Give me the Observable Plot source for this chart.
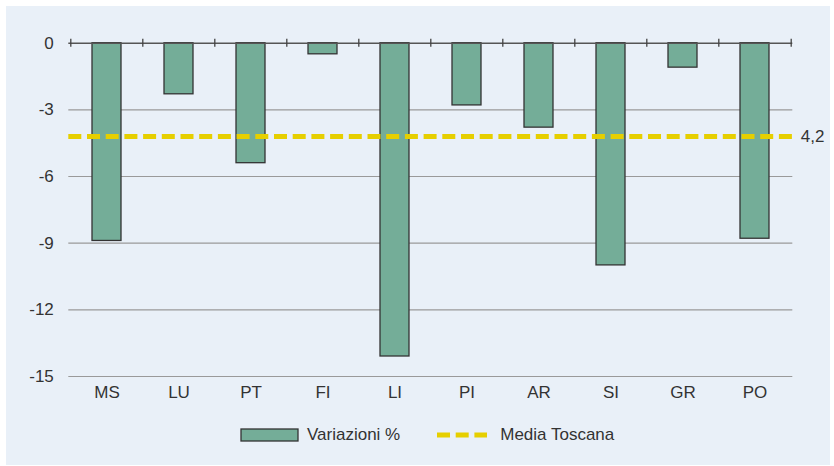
<!DOCTYPE html>
<html>
<head>
<meta charset="utf-8">
<script src="https://cdn.jsdelivr.net/npm/d3@7"></script>
<script src="https://cdn.jsdelivr.net/npm/@observablehq/plot@0.6"></script>
<style>
  html, body { margin: 0; padding: 0; background: #ffffff; }
  body { width: 834px; height: 466px; position: relative; overflow: hidden;
         font-family: "Liberation Sans", Arial, sans-serif; color: #333; }
  #panel { position: absolute; left: 6px; top: 6px; width: 824px; height: 459px; background: #e9f0f8; }
  #chart { position: absolute; left: 0; top: 0; }
  #legend { position: absolute; left: 240px; top: 425px; display: flex; align-items: center; font-size: 17px; white-space: nowrap; }
  #legend .item { display: flex; align-items: center; }
  #legend svg { display: block; }
</style>
</head>
<body>
<div id="panel"></div>
<div id="chart"></div>
<div id="legend"></div>
<script>
// ---- data ----
const regions = ["MS", "LU", "PT", "FI", "LI", "PI", "AR", "SI", "GR", "PO"];
const variazioni = [-8.9, -2.3, -5.4, -0.5, -14.1, -2.8, -3.8, -10.0, -1.1, -8.8];
const mediaToscana = -4.2;
const yTicks = [0, -3, -6, -9, -12, -15];
const seriesNames = ["Variazioni %", "Media Toscana"];

// ---- styles ----
const barFill = "#74ad98";
const barStroke = "#333333";
const meanColor = "#e6cf00";
const fontFamily = "'Liberation Sans', Arial, sans-serif";

const W = 834, H = 410;
const mL = 68.3, mR = 41.7, mT = 42.7, mB = 34;
const step = (W - mL - mR) / regions.length;
const pxPerUnit = (H - mT - mB) / 15;
const tickHalf = 4 / pxPerUnit;

const data = regions.map((r, i) => ({region: r, value: variazioni[i]}));

const chart = Plot.plot({
  width: W,
  height: H,
  marginTop: mT,
  marginBottom: mB,
  marginLeft: mL,
  marginRight: mR,
  style: {background: "transparent", fontFamily, fontSize: "17px", color: "#333", overflow: "visible"},
  x: {domain: regions, paddingInner: 0.6, paddingOuter: 0.3, axis: null, label: null},
  y: {domain: [-15, 0], axis: null, label: null},
  marks: [
    Plot.gridY(yTicks.filter(d => d !== 0), {stroke: "#9a9a9a", strokeOpacity: 1, strokeWidth: 1.2}),
    Plot.axisY(yTicks, {tickSize: 0, tickPadding: 15, tickFormat: d => String(d), label: null, fill: "#333", fontSize: 17}),
    Plot.axisX({tickSize: 0, tickPadding: 9, label: null, fill: "#333", fontSize: 17}),
    Plot.barY(data, {x: "region", y: "value", fill: barFill, stroke: barStroke, strokeWidth: 1.3}),
    Plot.ruleY([0], {stroke: "#555", strokeWidth: 1.6}),
    Plot.ruleX(regions, {x: d => d, y1: tickHalf, y2: -tickHalf, dx: -step / 2, stroke: "#444", strokeWidth: 1.3}),
    Plot.ruleX([regions[regions.length - 1]], {x: d => d, y1: tickHalf, y2: -tickHalf, dx: step / 2, stroke: "#444", strokeWidth: 1.3}),
    Plot.ruleY([mediaToscana], {stroke: meanColor, strokeWidth: 5, strokeDasharray: "13,5.7"}),
    Plot.text([mediaToscana], {y: d => d, frameAnchor: "right", dx: 8, textAnchor: "start",
      text: d => String(Math.abs(d)).replace(".", ","), fill: "#333", fontSize: 17})
  ]
});
document.getElementById("chart").append(chart);

// ---- legend ----
const legend = document.getElementById("legend");
legend.innerHTML = `
  <div class="item">
    <svg width="59" height="14"><rect x="1" y="1" width="57" height="12" fill="${barFill}" stroke="${barStroke}" stroke-width="1.3"></rect></svg>
    <span style="margin-left:8px">${seriesNames[0]}</span>
  </div>
  <div class="item" style="margin-left:37px">
    <svg width="50" height="14"><line x1="0" y1="7" x2="50" y2="7" stroke="${meanColor}" stroke-width="5" stroke-dasharray="13,5.7"></line></svg>
    <span style="margin-left:13px">${seriesNames[1]}</span>
  </div>`;
</script>
</body>
</html>
